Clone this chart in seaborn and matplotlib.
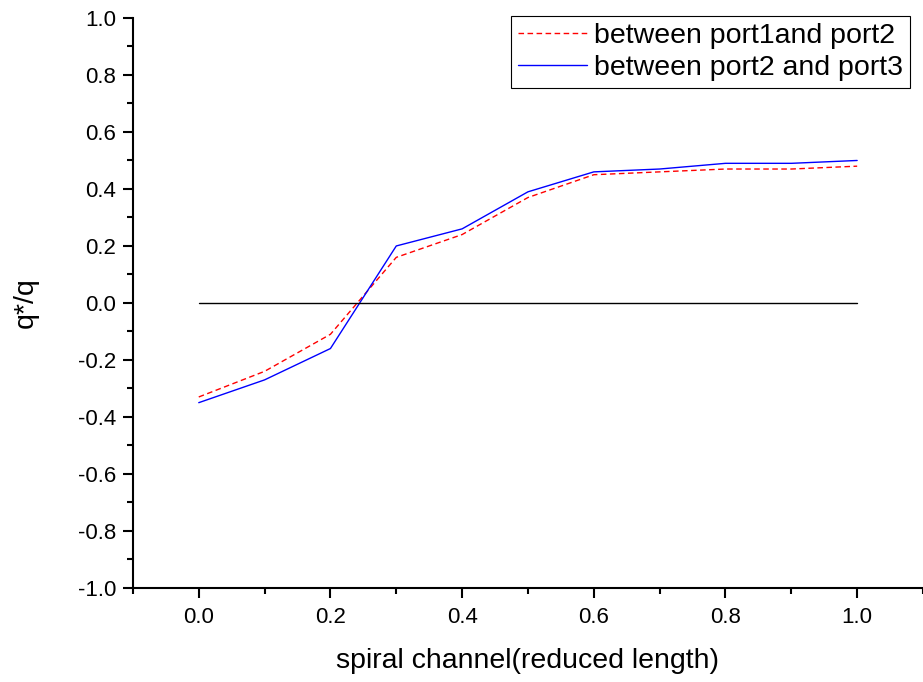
import matplotlib
matplotlib.use("Agg")
import matplotlib.pyplot as plt
import seaborn as sns
import pandas as pd
from matplotlib.ticker import MultipleLocator

x = [0.0, 0.1, 0.2, 0.3, 0.4, 0.5, 0.6, 0.7, 0.8, 0.9, 1.0]
port12 = [-0.33, -0.24, -0.11, 0.16, 0.24, 0.37, 0.45, 0.46, 0.47, 0.47, 0.48]
port23 = [-0.35, -0.27, -0.16, 0.20, 0.26, 0.39, 0.46, 0.47, 0.49, 0.49, 0.50]
label12 = "between port1and port2"
label23 = "between port2 and port3"
zero_x = [0.0, 1.0]
zero_y = [0.0, 0.0]
xticks = [0.0, 0.2, 0.4, 0.6, 0.8, 1.0]
xticklabels = ["0.0", "0.2", "0.4", "0.6", "0.8", "1.0"]
yticks = [-1.0, -0.8, -0.6, -0.4, -0.2, 0.0, 0.2, 0.4, 0.6, 0.8, 1.0]
yticklabels = ["-1.0", "-0.8", "-0.6", "-0.4", "-0.2", "0.0", "0.2", "0.4", "0.6", "0.8", "1.0"]

sns.set_style("ticks")
plt.rcParams['font.family'] = ['Liberation Sans', 'DejaVu Sans']
plt.rcParams['text.color'] = 'black'
plt.rcParams['axes.labelcolor'] = 'black'

fig = plt.figure(figsize=(9.23, 6.82), dpi=100)
ax = fig.add_axes([0.144, 0.138, 0.856, 0.8356])

df = pd.DataFrame({"x": x, label12: port12, label23: port23})
sns.lineplot(data=df, x="x", y=label12, ax=ax, color="#ff0000", linestyle=(0, (4, 2.5)),
             linewidth=1.0, label=label12)
sns.lineplot(data=df, x="x", y=label23, ax=ax, color="#0000ff", linestyle="-",
             linewidth=1.0, label=label23)
sns.lineplot(x=zero_x, y=zero_y, ax=ax, color="black", linewidth=1.0)

ax.set_xlim(-0.1, 1.1)
ax.set_ylim(-1.0, 1.0)
ax.xaxis.set_minor_locator(MultipleLocator(0.1))
ax.yaxis.set_minor_locator(MultipleLocator(0.1))
ax.set_xticks(xticks)
ax.set_xticklabels(xticklabels)
ax.set_yticks(yticks)
ax.set_yticklabels(yticklabels)
ax.tick_params(which="major", direction="out", length=7, width=1.5, labelsize=16, colors="black", pad=5)
ax.tick_params(axis="x", which="major", pad=7)
ax.tick_params(which="minor", direction="out", length=4, width=1.5, colors="black")
for s in ["top", "right"]:
    ax.spines[s].set_visible(False)
for s in ["left", "bottom"]:
    ax.spines[s].set_linewidth(1.5)
    ax.spines[s].set_color("black")

ax.set_xlabel("spiral channel(reduced length)", fontsize=20.5, labelpad=14, color="black")
ax.set_ylabel("q*/q", fontsize=20.5, labelpad=28, color="black")

leg = ax.legend(loc="upper right", bbox_to_anchor=(0.9835, 1.0035), fontsize=20.5, frameon=True,
                fancybox=False, edgecolor="black", framealpha=1, handlelength=2.4,
                borderpad=0.25, labelspacing=0.2, handletextpad=0.25, borderaxespad=0)
leg.get_frame().set_linewidth(0.8)
for t in leg.get_texts():
    t.set_color("black")

fig.savefig("out.png", dpi=100)
